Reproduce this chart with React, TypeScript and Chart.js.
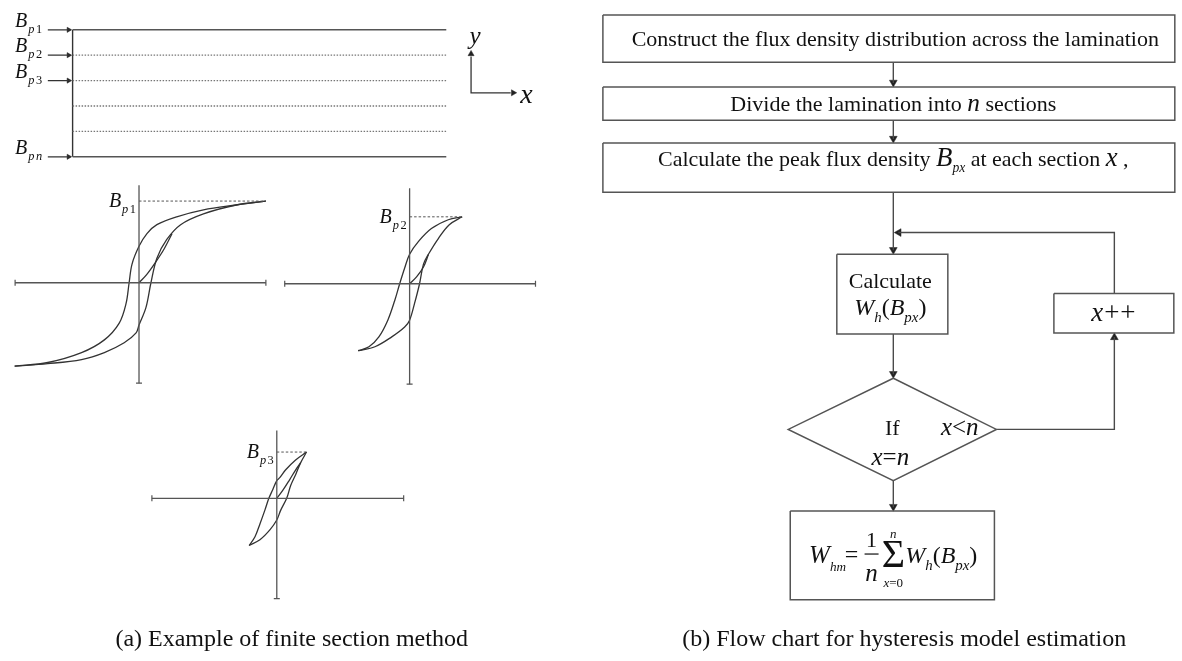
import React, { useEffect, useRef } from 'react';
import { Chart, registerables } from 'chart.js';
Chart.register(...registerables);

const CW = 1182;
const CH = 661;
const FONT = '"Liberation Serif", "DejaVu Serif", serif';

// ---------------- data ----------------
// lamination sections (peak flux density labels, '' = unlabeled section)
const sectionNames = ['p1', 'p2', 'p3', '', '', 'pn'];

// hysteresis loops, normalised H (x) and B (y), peak = (1, 1)
const loop1UpperH = [1, 0.766, 0.508, 0.297, 0.141, 0.0625, 0, -0.055, -0.078, -0.102, -0.156, -0.273, -0.453, -0.719, -0.98];
const loop1UpperB = [1, 0.952, 0.892, 0.807, 0.711, 0.602, 0.446, 0.229, 0, -0.253, -0.494, -0.699, -0.855, -0.976, -1.02];
const loop1LowerH = [-0.98, -0.72, -0.453, -0.273, -0.117, -0.023, 0, 0.055, 0.094, 0.141, 0.219, 0.328, 0.508, 0.766, 1];
const loop1LowerB = [-1.02, -0.99, -0.94, -0.855, -0.735, -0.614, -0.518, -0.301, 0, 0.301, 0.53, 0.711, 0.843, 0.952, 1];
const loop1InitH = [0, 0.06, 0.13, 0.2, 0.26];
const loop1InitB = [0, 0.1, 0.25, 0.42, 0.6];

const loop2UpperH = [1, 0.736, 0.415, 0.17, 0, -0.094, -0.189, -0.283, -0.415, -0.585, -0.774, -0.98];
const loop2UpperB = [1, 0.956, 0.824, 0.632, 0.44, 0.235, 0, -0.25, -0.544, -0.794, -0.941, -1];
const loop2LowerH = [-0.98, -0.66, -0.34, -0.094, 0, 0.094, 0.189, 0.264, 0.358, 0.547, 0.755, 1];
const loop2LowerB = [-1, -0.941, -0.794, -0.647, -0.544, -0.294, 0, 0.294, 0.441, 0.676, 0.882, 1];
const loop2InitH = [0, 0.132, 0.264, 0.36];
const loop2InitB = [0, 0.103, 0.25, 0.44];

const loop3UpperH = [1, 0.633, 0.3, 0.1, 0, -0.133, -0.267, -0.4, -0.567, -0.733, -0.93];
const loop3UpperB = [1, 0.83, 0.617, 0.447, 0.383, 0.191, 0, -0.255, -0.553, -0.83, -1.02];
const loop3LowerH = [-0.93, -0.567, -0.233, 0, 0.133, 0.333, 0.467, 0.633, 0.8, 1];
const loop3LowerB = [-1.02, -0.894, -0.681, -0.468, -0.255, 0, 0.277, 0.511, 0.766, 1];
const loop3InitH = [0, 0.2, 0.43, 0.62, 0.8];
const loop3InitB = [0, 0.17, 0.4, 0.6, 0.766];

const loopPeakLabels = ['p1', 'p2', 'p3'];

// flow chart text
const step1 = 'Construct the flux density distribution across the lamination';
const step2 = ['Divide the lamination into ', 'n', ' sections'];
const step3 = ['Calculate the peak flux density ', 'B', 'px', ' at each section ', 'x', ' ,'];
const captionA = '(a) Example of finite section method';
const captionB = '(b) Flow chart for hysteresis model estimation';

// ---------------- layout ----------------
const lam = { left: 68, right: 445, top: 25, gap: 25.8, arrowFrom: 43 };
const loops = [
  { cx: 135, cy: 282, hw: 128, hh: 83, axL: 10, axR: 263, axT: 183, axB: 384,
    uh: loop1UpperH, ub: loop1UpperB, lh: loop1LowerH, lb: loop1LowerB, ih: loop1InitH, ib: loop1InitB },
  { cx: 408, cy: 283, hw: 53, hh: 68, axL: 282, axR: 535, axT: 186, axB: 385,
    uh: loop2UpperH, ub: loop2UpperB, lh: loop2LowerH, lb: loop2LowerB, ih: loop2InitH, ib: loop2InitB },
  { cx: 274, cy: 501, hw: 30, hh: 47, axL: 148, axR: 402, axT: 432, axB: 603,
    uh: loop3UpperH, ub: loop3UpperB, lh: loop3LowerH, lb: loop3LowerB, ih: loop3InitH, ib: loop3InitB },
];
const fc = {
  spine: 896,
  box1: { l: 603, t: 10, r: 1180, b: 58 },
  box2: { l: 603, t: 83, r: 1180, b: 117 },
  box3: { l: 603, t: 140, r: 1180, b: 190 },
  calc: { l: 839, t: 253, r: 951, b: 334 },
  dia: { l: 790, r: 1000, t: 379, b: 483, cy: 431 },
  fin: { l: 792, t: 514, r: 998, b: 604 },
  inc: { l: 1058, t: 293, r: 1179, b: 333 },
  loopX: 1119,
  retY: 231,
};

const LINE = '#4a4a4a';
const TEXT = '#111';

function buildDatasets() {
  const ds: any[] = [];
  const line = (pts: [number, number][], opts: any = {}, xa = 'x', ya = 'y') => {
    ds.push({
      data: pts.map(([x, y]) => ({ x, y })),
      showLine: true, pointRadius: 0, borderColor: LINE, borderWidth: 1.4, tension: 0,
      xAxisID: xa, yAxisID: ya, ...opts,
    });
  };
  const head = (x: number, y: number, dir: string, r = 4.5) => {
    const rot: any = { right: 90, left: 270, up: 0, down: 180 };
    let px = x, py = y;
    if (dir === 'right') px = x - r;
    if (dir === 'left') px = x + r;
    if (dir === 'up') py = y + r;
    if (dir === 'down') py = y - r;
    ds.push({
      data: [{ x: px, y: py }], showLine: false, pointStyle: 'triangle', rotation: rot[dir],
      pointRadius: r, pointBackgroundColor: '#222', pointBorderColor: '#222', pointBorderWidth: 0.5,
      xAxisID: 'x', yAxisID: 'y',
    });
  };

  // lamination sections
  sectionNames.forEach((name, i) => {
    const boundary = i === 0 || i === sectionNames.length - 1;
    line([[lam.left, i], [lam.right, i]], boundary
      ? { borderColor: '#555', borderWidth: 1.6 }
      : { borderColor: '#777', borderWidth: 1.3, borderDash: [1.5, 1.5] }, 'x', 'ls');
    if (name) {
      line([[lam.arrowFrom, i], [lam.left - 2, i]], { borderColor: '#333', borderWidth: 1.3 }, 'x', 'ls');
      ds.push({
        data: [{ x: lam.left - 4, y: i }], showLine: false, pointStyle: 'triangle', rotation: 90,
        pointRadius: 3, pointBackgroundColor: '#222', pointBorderColor: '#222', pointBorderWidth: 0.5,
        xAxisID: 'x', yAxisID: 'ls',
      });
    }
  });
  line([[lam.left, 0], [lam.left, sectionNames.length - 1]], { borderColor: '#333', borderWidth: 1.4 }, 'x', 'ls');

  // coordinate icon
  line([[470, 52], [470, 89], [510, 89]], { borderColor: '#333', borderWidth: 1.3 });
  head(470, 46, 'up', 3.5);
  head(516, 89, 'right', 3.5);

  // hysteresis loops
  loops.forEach((L, k) => {
    const xa = 'h' + k, ya = 'b' + k;
    const nx = (p: number) => (p - L.cx) / L.hw;
    const ny = (p: number) => (L.cy - p) / L.hh;
    ds.push({
      data: [{ x: nx(L.axL), y: 0 }, { x: nx(L.axR), y: 0 }], showLine: true,
      borderColor: '#555', borderWidth: 1.3, pointStyle: 'line', rotation: 90, pointRadius: 3,
      pointBorderColor: '#555', pointBorderWidth: 1.2, xAxisID: xa, yAxisID: ya,
    });
    ds.push({
      data: [{ x: 0, y: ny(L.axT) }, { x: 0, y: ny(L.axB) }], showLine: true,
      borderColor: '#555', borderWidth: 1.3, pointStyle: 'line', rotation: 0, pointRadius: [0, 3],
      pointBorderColor: '#555', pointBorderWidth: 1.2, xAxisID: xa, yAxisID: ya,
    });
    line([[0, 1], [1, 1]], { borderColor: '#555', borderWidth: 1, borderDash: [2.5, 2] }, xa, ya);
    const curve = (h: number[], b: number[]) =>
      line(h.map((v, j) => [v, b[j]] as [number, number]), { borderColor: '#333', borderWidth: 1.3, tension: 0.35 }, xa, ya);
    curve(L.uh, L.ub);
    curve(L.lh, L.lb);
    curve(L.ih, L.ib);
  });

  // flow chart boxes
  const rect = (b: any) => line([[b.l, b.t], [b.r, b.t], [b.r, b.b], [b.l, b.b], [b.l, b.t]], { borderColor: '#555', borderWidth: 1.5 });
  [fc.box1, fc.box2, fc.box3, fc.calc, fc.fin, fc.inc].forEach(rect);
  const d = fc.dia;
  line([[fc.spine, d.t], [d.r, d.cy], [fc.spine, d.b], [d.l, d.cy], [fc.spine, d.t]], { borderColor: '#555', borderWidth: 1.5 });

  // flow arrows
  const down = (y1: number, y2: number) => { line([[fc.spine, y1], [fc.spine, y2 - 4]]); head(fc.spine, y2, 'down'); };
  down(fc.box1.b, fc.box2.t);
  down(fc.box2.b, fc.box3.t);
  down(fc.box3.b, fc.calc.t);
  down(fc.calc.b, d.t);
  down(d.b, fc.fin.t);
  line([[fc.loopX, fc.inc.t], [fc.loopX, fc.retY], [fc.spine + 5, fc.retY]]);
  head(fc.spine + 1, fc.retY, 'left');
  line([[d.r, d.cy], [fc.loopX, d.cy], [fc.loopX, fc.inc.b + 4]]);
  head(fc.loopX, fc.inc.b, 'up');
  return ds;
}

type Seg = { t: string; it?: boolean; sub?: boolean; k?: number; dx?: number };
function drawRich(ctx: CanvasRenderingContext2D, segs: Seg[], x: number, y: number, size: number, align = 'center') {
  const fonts = segs.map((s) => {
    const sz = size * (s.k ?? 1) * (s.sub ? 0.62 : 1);
    return `${s.it ? 'italic ' : ''}${sz.toFixed(1)}px ${FONT}`;
  });
  const ws: number[] = [];
  let total = 0;
  segs.forEach((s, i) => {
    ctx.font = fonts[i];
    const w = ctx.measureText(s.t).width + (s.dx ?? 0);
    ws.push(w);
    total += w;
  });
  let cx = align === 'center' ? x - total / 2 : align === 'right' ? x - total : x;
  ctx.textAlign = 'left';
  ctx.textBaseline = 'alphabetic';
  segs.forEach((s, i) => {
    ctx.font = fonts[i];
    ctx.fillText(s.t, cx + (s.dx ?? 0), y + (s.sub ? size * 0.3 : 0));
    cx += ws[i];
  });
  return total;
}

function subLabel(name: string): Seg[] {
  return [
    { t: 'B', it: true },
    { t: name[0], it: true, sub: true, dx: 1 },
    { t: name.slice(1), it: /[a-z]/.test(name.slice(1)), sub: true, dx: 1.5 },
  ];
}

const textPlugin = {
  id: 'diagramText',
  afterDatasetsDraw(chart: any) {
    const ctx: CanvasRenderingContext2D = chart.ctx;
    const X = (v: number) => chart.scales.x.getPixelForValue(v);
    const Y = (v: number) => chart.scales.y.getPixelForValue(v);
    const LS = (v: number) => chart.scales.ls.getPixelForValue(v);
    ctx.save();
    ctx.fillStyle = TEXT;

    // lamination labels
    sectionNames.forEach((name, i) => {
      if (!name) return;
      drawRich(ctx, subLabel(name), X(10), LS(i) - 3, 20, 'left');
    });
    drawRich(ctx, [{ t: 'y', it: true }], X(474), Y(39), 25);
    drawRich(ctx, [{ t: 'x', it: true }], X(526), Y(99), 28);

    // loop peak labels
    loops.forEach((L, k) => {
      const ax = chart.scales['h' + k].getPixelForValue(0);
      const py = chart.scales['b' + k].getPixelForValue(1);
      drawRich(ctx, subLabel(loopPeakLabels[k]), ax - 3, py + 6, 20, 'right');
    });

    // flow chart texts
    const s = fc.spine;
    drawRich(ctx, [{ t: step1 }], X(s + 2), Y(41), 22);
    drawRich(ctx, [{ t: step2[0] }, { t: step2[1], it: true, k: 1.15 }, { t: step2[2] }], X(s), Y(107), 22);
    drawRich(ctx, [
      { t: step3[0] }, { t: step3[1], it: true, k: 1.22 }, { t: step3[2], it: true, sub: true },
      { t: step3[3] }, { t: step3[4], it: true, k: 1.22 }, { t: step3[5] },
    ], X(s), Y(163), 22);
    drawRich(ctx, [{ t: 'Calculate' }], X(893), Y(287), 22);
    drawRich(ctx, [
      { t: 'W', it: true }, { t: 'h', it: true, sub: true }, { t: '(' }, { t: 'B', it: true },
      { t: 'px', it: true, sub: true }, { t: ')' },
    ], X(893), Y(315), 24);
    drawRich(ctx, [{ t: 'If' }], X(895), Y(437), 22);
    drawRich(ctx, [{ t: 'x', it: true }, { t: '<' }, { t: 'n', it: true }], X(963), Y(437), 25);
    drawRich(ctx, [{ t: 'x', it: true }, { t: '=' }, { t: 'n', it: true }], X(893), Y(467), 25);
    drawRich(ctx, [{ t: 'x', it: true }, { t: '+', dx: 1 }, { t: '+', dx: 1 }], X(1118), Y(321), 27);

    // formula
    drawRich(ctx, [{ t: 'W', it: true }, { t: 'hm', it: true, sub: true, k: 0.85 }], X(811), Y(567), 25, 'left');
    drawRich(ctx, [{ t: '=' }], X(847), Y(566), 24, 'left');
    drawRich(ctx, [{ t: '1' }], X(874), Y(550), 22);
    ctx.fillRect(X(867), Y(557), 14, 1.2);
    drawRich(ctx, [{ t: 'n', it: true }], X(874), Y(585), 25);
    drawRich(ctx, [{ t: 'Σ' }], X(896), Y(571), 40);
    drawRich(ctx, [{ t: 'n', it: true }], X(896), Y(541), 13);
    drawRich(ctx, [{ t: 'x', it: true }, { t: '=0' }], X(896), Y(591), 13);
    drawRich(ctx, [
      { t: 'W', it: true }, { t: 'h', it: true, sub: true }, { t: '(' }, { t: 'B', it: true },
      { t: 'px', it: true, sub: true }, { t: ')' },
    ], X(908), Y(567), 24, 'left');

    // captions
    drawRich(ctx, [{ t: captionA }], X(289), Y(651), 24);
    drawRich(ctx, [{ t: captionB }], X(907), Y(651), 24);
    ctx.restore();
  },
};

function buildScales() {
  const scales: any = {
    x: { type: 'linear', min: 0, max: CW, display: false },
    y: { type: 'linear', min: 0, max: CH, reverse: true, display: false },
    ls: { type: 'linear', min: -lam.top / lam.gap, max: (CH - lam.top) / lam.gap, reverse: true, display: false },
  };
  loops.forEach((L, k) => {
    scales['h' + k] = { type: 'linear', min: -L.cx / L.hw, max: (CW - L.cx) / L.hw, display: false };
    scales['b' + k] = { type: 'linear', min: (L.cy - CH) / L.hh, max: L.cy / L.hh, display: false };
  });
  return scales;
}

export default function App() {
  const ref = useRef<HTMLCanvasElement>(null);
  useEffect(() => {
    document.body.style.margin = '0';
    const chart = new Chart(ref.current as HTMLCanvasElement, {
      type: 'scatter',
      data: { datasets: buildDatasets() },
      options: {
        animation: false,
        responsive: false,
        maintainAspectRatio: false,
        devicePixelRatio: 1,
        events: [],
        layout: { padding: 0 },
        plugins: { legend: { display: false }, tooltip: { enabled: false } },
        scales: buildScales(),
      } as any,
      plugins: [textPlugin],
    });
    return () => chart.destroy();
  }, []);
  return (
    <div style={{ width: CW, height: CH, background: '#fff' }}>
      <canvas ref={ref} width={CW} height={CH} style={{ display: 'block' }} />
    </div>
  );
}
